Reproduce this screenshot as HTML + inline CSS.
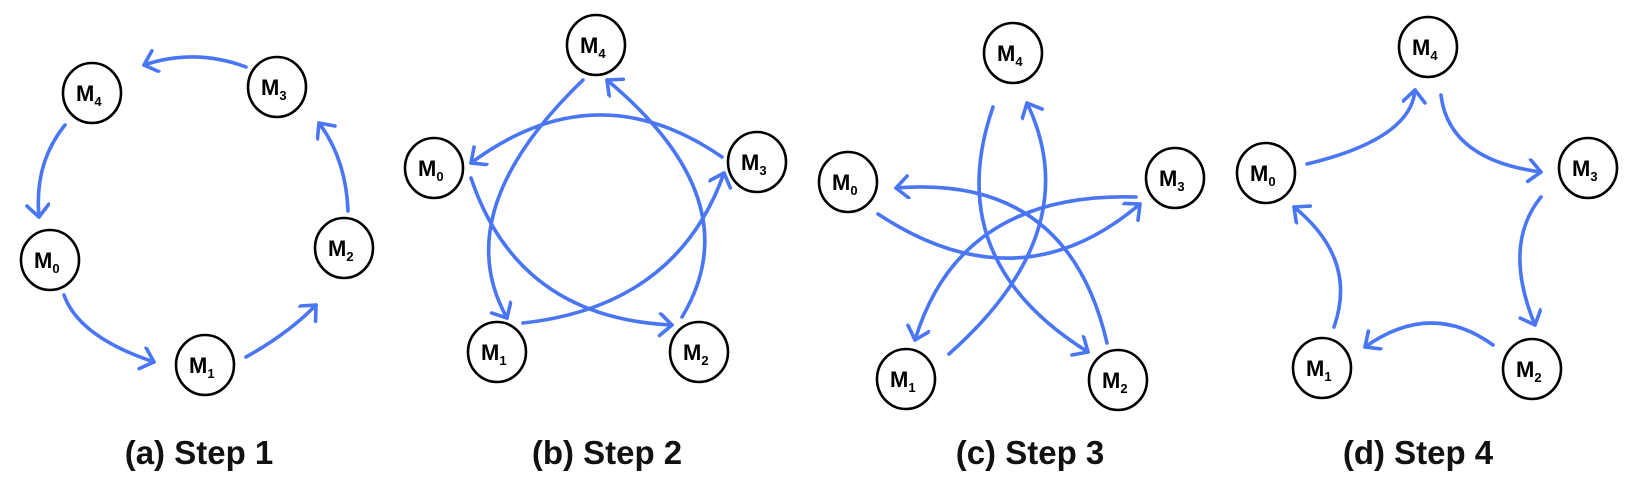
<!DOCTYPE html>
<html><head><meta charset="utf-8"><style>
html,body{margin:0;padding:0;background:#fff;}
svg{display:block;}
.n{fill:#fff;stroke:#000;stroke-width:2.6;}
.a{fill:none;stroke:#4a76f4;stroke-width:3.6;stroke-linecap:round;marker-end:url(#h);}
.t{font-family:"Liberation Sans",Arial,sans-serif;font-weight:bold;font-size:22px;fill:#000;}
.s{font-size:13px;}
.cap{font-family:"Liberation Sans",Arial,sans-serif;font-size:33px;font-weight:bold;fill:#111;}
</style></head><body>
<svg width="1627" height="487" viewBox="0 0 1627 487" xmlns="http://www.w3.org/2000/svg">
<defs>
<marker id="h" markerUnits="userSpaceOnUse" markerWidth="30" markerHeight="30" refX="14" refY="12" orient="auto">
<path d="M2,1 L14,12 L2,23" fill="none" stroke="#4a76f4" stroke-width="3.6" stroke-linecap="round" stroke-linejoin="round"/>
</marker>
</defs>
<!-- (a) -->
<path class="a" d="M246,67 Q195,48 144,65"/>
<path class="a" d="M65,125 Q34,163 39,217"/>
<path class="a" d="M64,295 Q79,337 154,362"/>
<path class="a" d="M246,357 Q289,333 316,305"/>
<path class="a" d="M348,211 Q346,159 319,123"/>
<!-- (b) -->
<path class="a" d="M583,80 Q447,211 507,318"/>
<path class="a" d="M722,157 Q596,70 471,163"/>
<path class="a" d="M471,178 Q518,318 672,325"/>
<path class="a" d="M523,323 Q677,306 724,173"/>
<path class="a" d="M682,317 Q752,201 607,80"/>
<!-- (c) -->
<path class="a" d="M993,107 Q940,260 1088,352"/>
<path class="a" d="M949,354 Q1088,231 1027,103"/>
<path class="a" d="M1136,197 Q960,192 915,340"/>
<path class="a" d="M878,214 Q1019,307 1140,204"/>
<path class="a" d="M1107,343 Q1068,174 896,188"/>
<!-- (d) -->
<path class="a" d="M1307,164 Q1411,139 1415,90"/>
<path class="a" d="M1441,95 Q1449,160 1541,172"/>
<path class="a" d="M1541,197 Q1502,245 1535,325"/>
<path class="a" d="M1493,345 Q1431,300 1365,347"/>
<path class="a" d="M1334,327 Q1358,259 1294,207"/>

<g id="nodes">
<ellipse class="n" cx="92" cy="93" rx="29" ry="30"/><text class="t" x="76" y="101">M<tspan class="s" dy="5">4</tspan></text>
<ellipse class="n" cx="277" cy="87" rx="29" ry="30"/><text class="t" x="261" y="95">M<tspan class="s" dy="5">3</tspan></text>
<ellipse class="n" cx="344" cy="248" rx="29" ry="30"/><text class="t" x="328" y="256">M<tspan class="s" dy="5">2</tspan></text>
<ellipse class="n" cx="50" cy="260" rx="29" ry="30"/><text class="t" x="34" y="268">M<tspan class="s" dy="5">0</tspan></text>
<ellipse class="n" cx="205" cy="365" rx="29" ry="30"/><text class="t" x="189" y="373">M<tspan class="s" dy="5">1</tspan></text>
<ellipse class="n" cx="596" cy="45" rx="29" ry="30"/><text class="t" x="580" y="53">M<tspan class="s" dy="5">4</tspan></text>
<ellipse class="n" cx="434" cy="168" rx="29" ry="30"/><text class="t" x="418" y="176">M<tspan class="s" dy="5">0</tspan></text>
<ellipse class="n" cx="757" cy="162" rx="29" ry="30"/><text class="t" x="741" y="170">M<tspan class="s" dy="5">3</tspan></text>
<ellipse class="n" cx="497" cy="352" rx="29" ry="30"/><text class="t" x="481" y="360">M<tspan class="s" dy="5">1</tspan></text>
<ellipse class="n" cx="699" cy="352" rx="29" ry="30"/><text class="t" x="683" y="360">M<tspan class="s" dy="5">2</tspan></text>
<ellipse class="n" cx="1013" cy="53" rx="29" ry="30"/><text class="t" x="997" y="61">M<tspan class="s" dy="5">4</tspan></text>
<ellipse class="n" cx="848" cy="182" rx="29" ry="30"/><text class="t" x="832" y="190">M<tspan class="s" dy="5">0</tspan></text>
<ellipse class="n" cx="1175" cy="178" rx="29" ry="30"/><text class="t" x="1159" y="186">M<tspan class="s" dy="5">3</tspan></text>
<ellipse class="n" cx="906" cy="379" rx="29" ry="30"/><text class="t" x="890" y="387">M<tspan class="s" dy="5">1</tspan></text>
<ellipse class="n" cx="1118" cy="380" rx="29" ry="30"/><text class="t" x="1102" y="388">M<tspan class="s" dy="5">2</tspan></text>
<ellipse class="n" cx="1428" cy="47" rx="29" ry="30"/><text class="t" x="1412" y="55">M<tspan class="s" dy="5">4</tspan></text>
<ellipse class="n" cx="1266" cy="173" rx="29" ry="30"/><text class="t" x="1250" y="181">M<tspan class="s" dy="5">0</tspan></text>
<ellipse class="n" cx="1588" cy="168" rx="29" ry="30"/><text class="t" x="1572" y="176">M<tspan class="s" dy="5">3</tspan></text>
<ellipse class="n" cx="1322" cy="368" rx="29" ry="30"/><text class="t" x="1306" y="376">M<tspan class="s" dy="5">1</tspan></text>
<ellipse class="n" cx="1532" cy="369" rx="29" ry="30"/><text class="t" x="1516" y="377">M<tspan class="s" dy="5">2</tspan></text>
</g>

<text class="cap" x="199" y="464" text-anchor="middle">(a) Step 1</text>
<text class="cap" x="607" y="464" text-anchor="middle">(b) Step 2</text>
<text class="cap" x="1030" y="464" text-anchor="middle">(c) Step 3</text>
<text class="cap" x="1418" y="464" text-anchor="middle">(d) Step 4</text>
</svg>
</body></html>
